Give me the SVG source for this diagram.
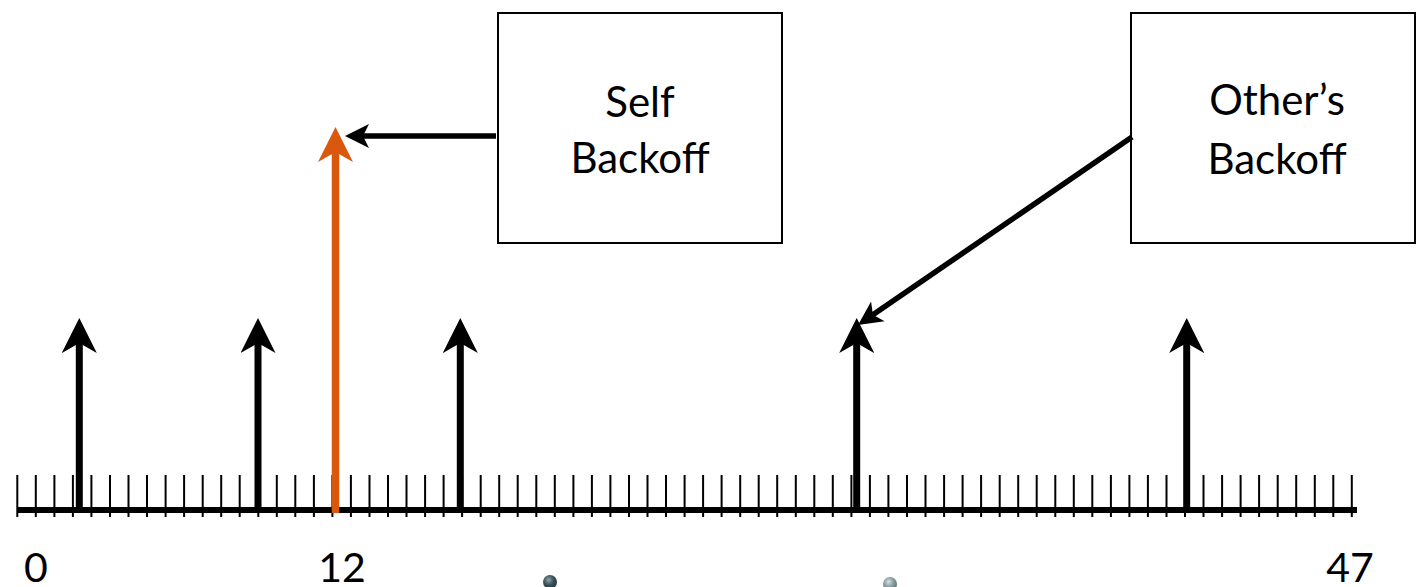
<svg xmlns="http://www.w3.org/2000/svg" width="1416" height="587" viewBox="0 0 1416 587">
  <style>
    .box { fill: #fff; stroke: #000; stroke-width: 2; }
    .lbl { font-family: Lato, "Open Sans", "Liberation Sans", sans-serif; font-size: 42px; fill: #000; text-anchor: middle; }
    .num { font-family: Lato, "Open Sans", "Liberation Sans", sans-serif; font-size: 41px; fill: #000; text-anchor: middle; }
    .tick { stroke: #000; stroke-width: 2; fill: none; }
    .axis { stroke: #000; stroke-width: 6; }
    .slot { stroke: #000; stroke-width: 7; }
    .self { stroke: #D9580D; stroke-width: 7.5; }
    .conn { stroke: #000; stroke-width: 5.5; fill: none; }
  </style>
  <defs>
    <!-- large notched head for the slot arrows -->
    <marker id="head-slot" markerUnits="userSpaceOnUse" viewBox="0 0 35 35" refX="10" refY="17.5" markerWidth="35" markerHeight="35" orient="auto">
      <path d="M35 17.5L0 0L10 17.5L0 35Z" fill="#000"/>
    </marker>
    <marker id="head-self" markerUnits="userSpaceOnUse" viewBox="0 0 35 35" refX="10" refY="17.5" markerWidth="35" markerHeight="35" orient="auto">
      <path d="M35 17.5L0 0L10 17.5L0 35Z" fill="#D9580D"/>
    </marker>
    <!-- smaller notched head for the callout connectors -->
    <marker id="head-conn" markerUnits="userSpaceOnUse" viewBox="0 0 24 26" refX="6" refY="13" markerWidth="24" markerHeight="26" orient="auto">
      <path d="M24 13L0 1L6 13L0 25Z" fill="#000"/>
    </marker>
    <radialGradient id="ball-dark" cx="0.4" cy="0.35" r="0.7">
      <stop offset="0" stop-color="#8fa3a8"/>
      <stop offset="0.5" stop-color="#3b5459"/>
      <stop offset="1" stop-color="#1e3236"/>
    </radialGradient>
    <radialGradient id="ball-light" cx="0.4" cy="0.35" r="0.7">
      <stop offset="0" stop-color="#d6dfe1"/>
      <stop offset="0.5" stop-color="#8a9da1"/>
      <stop offset="1" stop-color="#5c7074"/>
    </radialGradient>
  </defs>

  <!-- time axis with slot ticks -->
  <g id="timeline">
    <path class="tick" d="M17.3 475V517M35.8 475V517M54.4 475V517M72.9 475V517M91.4 475V517M110 475V517M128.5 475V517M147 475V517M165.6 475V517M184.1 475V517M202.7 475V517M221.2 475V517M239.7 475V517M258.3 475V517M276.8 475V517M295.3 475V517M313.9 475V517M332.4 475V517M350.9 475V517M369.5 475V517M388 475V517M406.5 475V517M425.1 475V517M443.6 475V517M462.1 475V517M480.7 475V517M499.2 475V517M517.7 475V517M536.3 475V517M554.8 475V517M573.4 475V517M591.9 475V517M610.4 475V517M629 475V517M647.5 475V517M666 475V517M684.6 475V517M703.1 475V517M721.6 475V517M740.2 475V517M758.7 475V517M777.2 475V517M795.8 475V517M814.3 475V517M832.8 475V517M851.4 475V517M869.9 475V517M888.4 475V517M907 475V517M925.5 475V517M944.1 475V517M962.6 475V517M981.1 475V517M999.7 475V517M1018.2 475V517M1036.7 475V517M1055.3 475V517M1073.8 475V517M1092.3 475V517M1110.9 475V517M1129.4 475V517M1147.9 475V517M1166.5 475V517M1185 475V517M1203.5 475V517M1222.1 475V517M1240.6 475V517M1259.1 475V517M1277.7 475V517M1296.2 475V517M1314.8 475V517M1333.3 475V517M1351.8 475V517"/>
    <line class="axis" x1="17" y1="510" x2="1357" y2="510"/>
    <text class="num" x="36" y="582">0</text>
    <text class="num" x="342" y="582">12</text>
    <text class="num" x="1350" y="582">47</text>
  </g>

  <!-- backoff slots -->
  <g id="slots">
    <line class="slot" x1="79.3" y1="510" x2="79.3" y2="343" marker-end="url(#head-slot)"/>
    <line class="slot" x1="258" y1="510" x2="258" y2="343" marker-end="url(#head-slot)"/>
    <line class="slot" x1="460.3" y1="510" x2="460.3" y2="343" marker-end="url(#head-slot)"/>
    <line class="slot" x1="856.7" y1="510" x2="856.7" y2="343" marker-end="url(#head-slot)"/>
    <line class="slot" x1="1186.7" y1="510" x2="1186.7" y2="343" marker-end="url(#head-slot)"/>
    <line class="self" x1="335.5" y1="513" x2="335.5" y2="152" marker-end="url(#head-self)"/>
  </g>

  <g id="node-self-backoff">
    <rect class="box" x="498" y="13" width="284" height="230"/>
    <text class="lbl" x="640" y="117">Self</text>
    <text class="lbl" x="640" y="173">Backoff</text>
  </g>

  <g id="node-others-backoff">
    <rect class="box" x="1131" y="13" width="284" height="230"/>
    <text class="lbl" x="1277" y="115">Other’s</text>
    <text class="lbl" x="1277" y="174">Backoff</text>
  </g>

  <g id="connectors">
    <line class="conn" x1="496" y1="136" x2="363" y2="136" marker-end="url(#head-conn)"/>
    <line class="conn" x1="1132" y1="137" x2="872.9" y2="314.8" marker-end="url(#head-conn)"/>
  </g>

  <!-- small beads below the axis -->
  <circle cx="550" cy="582" r="7" fill="url(#ball-dark)"/>
  <circle cx="890" cy="584" r="7" fill="url(#ball-light)"/>
</svg>
